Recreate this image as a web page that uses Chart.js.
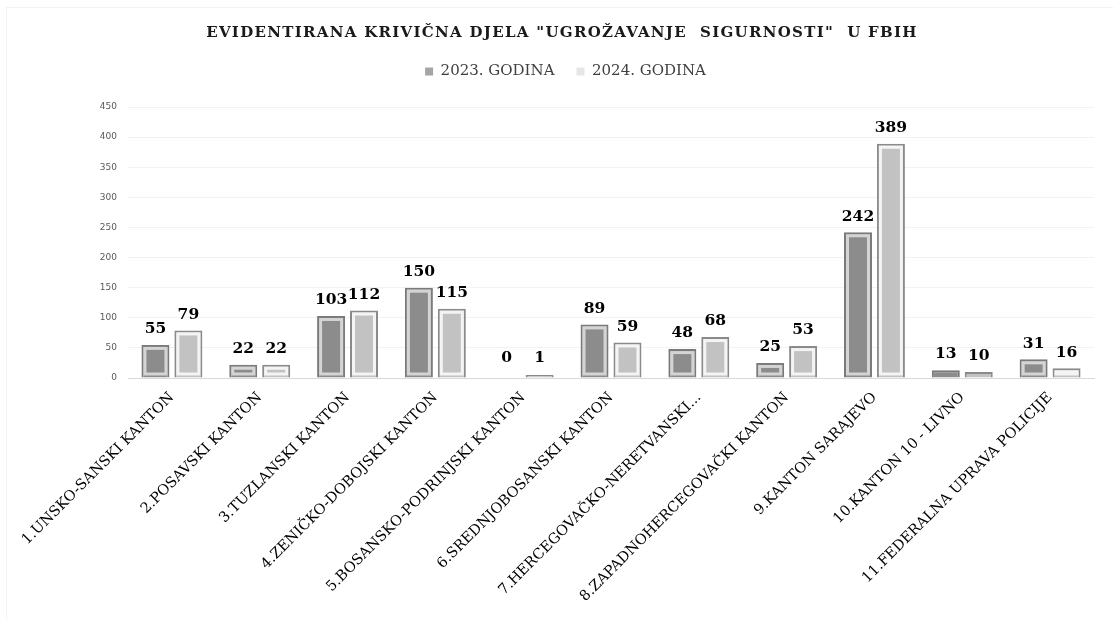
<!DOCTYPE html>
<html>
<head>
<meta charset="utf-8">
<script src="https://cdn.jsdelivr.net/npm/chart.js@4/dist/chart.umd.min.js"></script>
<style>
  html, body { margin: 0; padding: 0; background: #fff; }
  #wrap { position: absolute; left: 6px; top: 7px; width: 1107px; height: 612px; border-left: 1px solid #f2f2f2; border-top: 1px solid #f2f2f2; box-sizing: border-box; }
  #chart { position: absolute; left: 0; top: 0; }
</style>
</head>
<body>
<div id="wrap"><canvas id="chart" width="1106" height="611"></canvas></div>
<script>
const titleText = 'EVIDENTIRANA KRIVIČNA DJELA "UGROŽAVANJE  SIGURNOSTI"  U FBIH';
const categories = [
  '1.UNSKO-SANSKI KANTON',
  '2.POSAVSKI KANTON',
  '3.TUZLANSKI KANTON',
  '4.ZENIČKO-DOBOJSKI KANTON',
  '5.BOSANSKO-PODRINJSKI KANTON',
  '6.SREDNJOBOSANSKI KANTON',
  '7.HERCEGOVAČKO-NERETVANSKI...',
  '8.ZAPADNOHERCEGOVAČKI KANTON',
  '9.KANTON SARAJEVO',
  '10.KANTON 10 - LIVNO',
  '11.FEDERALNA UPRAVA POLICIJE'
];
const values2023 = [55, 22, 103, 150, 0, 89, 48, 25, 242, 13, 31];
const values2024 = [79, 22, 112, 115, 1, 59, 68, 53, 389, 10, 16];
const yTicks = [0, 50, 100, 150, 200, 250, 300, 350, 400, 450];

// bevel-like inner band, like the office picture style
const bevelBars = {
  id: 'bevelBars',
  afterDatasetsDraw(chart) {
    const ctx = chart.ctx;
    chart.data.datasets.forEach((ds, i) => {
      const meta = chart.getDatasetMeta(i);
      meta.data.forEach(bar => {
        const left = bar.x - bar.width / 2;
        const top = Math.min(bar.y, bar.base);
        const h = Math.abs(bar.base - bar.y);
        if (h < 8) return;
        ctx.save();
        ctx.strokeStyle = ds.bandColor;
        ctx.lineWidth = 3;
        ctx.strokeRect(left + 3.5, top + 3.5, bar.width - 7, h - 7);
        ctx.restore();
      });
    });
  }
};

const valueLabels = {
  id: 'valueLabels',
  afterDatasetsDraw(chart) {
    const ctx = chart.ctx;
    ctx.save();
    ctx.font = 'bold 15.5px "DejaVu Serif"';
    ctx.fillStyle = '#000';
    ctx.textAlign = 'center';
    ctx.textBaseline = 'bottom';
    chart.data.datasets.forEach((ds, i) => {
      chart.getDatasetMeta(i).data.forEach((bar, j) => {
        const y = ds.data[j] === 0 ? bar.base : bar.y;
        ctx.fillText(String(ds.data[j]), bar.x, Math.min(y, bar.base - 4) - 8);
      });
    });
    ctx.restore();
  }
};

const spacedTitle = {
  id: 'spacedTitle',
  afterDraw(chart) {
    const ctx = chart.ctx;
    ctx.save();
    ctx.font = 'bold 15px "DejaVu Serif"';
    ctx.letterSpacing = '1.3px';
    ctx.fillStyle = '#1a1a1a';
    ctx.textAlign = 'center';
    ctx.textBaseline = 'middle';
    ctx.fillText(titleText, 555, 25);
    ctx.restore();
  }
};

new Chart(document.getElementById('chart'), {
  type: 'bar',
  data: {
    labels: categories,
    datasets: [
      {
        label: '2023. GODINA',
        data: values2023,
        backgroundColor: '#8c8c8c',
        borderColor: '#7a7a7a',
        borderWidth: 2,
        bandColor: '#d4d4d4',
        categoryPercentage: 0.75,
        barPercentage: 0.85
      },
      {
        label: '2024. GODINA',
        data: values2024,
        backgroundColor: '#c2c2c2',
        borderColor: '#8a8a8a',
        borderWidth: 2,
        bandColor: '#f4f4f4',
        minBarLength: 3,
        categoryPercentage: 0.75,
        barPercentage: 0.85
      }
    ]
  },
  options: {
    responsive: false,
    animation: false,
    layout: { padding: { top: 34, left: 30, right: 19, bottom: 0 } },
    plugins: {
      legend: {
        position: 'top',
        labels: {
          boxWidth: 8,
          boxHeight: 8,
          padding: 22,
          color: '#404040',
          font: { family: '"DejaVu Serif"', size: 15 },
          generateLabels(chart) {
            return chart.data.datasets.map((ds, i) => ({
              text: ds.label,
              fillStyle: i === 0 ? '#a6a6a6' : '#e6e6e6',
              strokeStyle: i === 0 ? '#a6a6a6' : '#e6e6e6',
              lineWidth: 0,
              fontColor: '#404040',
              datasetIndex: i
            }));
          }
        }
      },
      title: { display: false },
      tooltip: { enabled: false }
    },
    scales: {
      x: {
        grid: { display: false },
        border: { color: '#d9d9d9' },
        afterFit(axis) { axis.height = 241; },
        ticks: {
          color: '#000',
          minRotation: 45,
          maxRotation: 45,
          autoSkip: false,
          font: { family: '"DejaVu Serif"', size: 14.5 }
        }
      },
      // empty spacer between legend and plot
      xTop: {
        position: 'top',
        type: 'category',
        grid: { display: false },
        border: { display: false },
        ticks: { display: false },
        afterFit(axis) { axis.height = 18; }
      },
      y: {
        min: 0,
        max: 450,
        afterBuildTicks(axis) { axis.ticks = yTicks.map(v => ({ value: v })); },
        afterFit(axis) { axis.width = 91; },
        grid: { color: '#f2f2f2', drawTicks: false },
        border: { display: false },
        ticks: {
          color: '#595959',
          padding: 11,
          font: { family: '"DejaVu Sans"', size: 9 }
        }
      }
    }
  },
  plugins: [bevelBars, valueLabels, spacedTitle]
});
</script>
</body>
</html>
